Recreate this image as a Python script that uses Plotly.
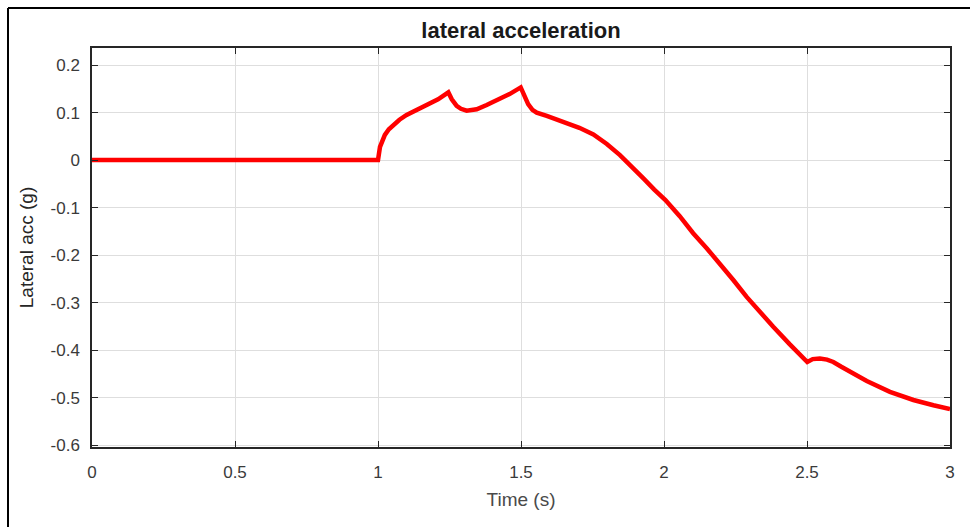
import plotly.graph_objects as go

time_s = [0.0, 0.5, 1.0, 1.007, 1.015, 1.024, 1.038, 1.054, 1.075, 1.10, 1.135, 1.17, 1.21, 1.246,
          1.258, 1.275, 1.29, 1.31, 1.33, 1.345, 1.38, 1.415, 1.46, 1.499, 1.51, 1.525, 1.54, 1.555,
          1.59, 1.625, 1.66, 1.704, 1.753, 1.80, 1.846, 1.888, 1.928, 1.966, 2.005, 2.055, 2.102,
          2.15, 2.196, 2.243, 2.289, 2.335, 2.382, 2.44, 2.501, 2.52, 2.545, 2.57, 2.592, 2.62, 2.65,
          2.709, 2.79, 2.872, 2.942, 3.0]
lat_acc = [0.0, 0.0, 0.0, 0.028, 0.042, 0.053, 0.065, 0.074, 0.085, 0.095, 0.106, 0.116, 0.128,
           0.1425, 0.128, 0.114, 0.108, 0.104, 0.105, 0.107, 0.116, 0.126, 0.139, 0.153, 0.138,
           0.118, 0.106, 0.100, 0.093, 0.086, 0.079, 0.068, 0.054, 0.034, 0.0105, -0.013, -0.0386,
           -0.062, -0.084, -0.118, -0.154, -0.186, -0.218, -0.253, -0.288, -0.32, -0.351, -0.388,
           -0.425, -0.419, -0.4175, -0.420, -0.425, -0.435, -0.446, -0.465, -0.488, -0.505, -0.516, -0.524]

x_ticks = [0, 0.5, 1, 1.5, 2, 2.5, 3]
x_tick_labels = ["0", "0.5", "1", "1.5", "2", "2.5", "3"]
y_ticks = [0.2, 0.1, 0, -0.1, -0.2, -0.3, -0.4, -0.5, -0.6]
y_tick_labels = ["0.2", "0.1", "0", "-0.1", "-0.2", "-0.3", "-0.4", "-0.5", "-0.6"]

W, H = 970, 527
L, R, T, B = 92, 20, 48, 80
pw, ph = W - L - R, H - T - B
FONT = "Liberation Sans, Arial"

fig = go.Figure()
fig.add_trace(go.Scatter(x=time_s, y=lat_acc, mode="lines",
                         line=dict(color="#ff0000", width=4.5, shape="linear"),
                         showlegend=False))

axis_common = dict(showgrid=True, gridcolor="#dedede", gridwidth=1,
                   showline=True, linecolor="#262626", linewidth=1.5, mirror="ticks",
                   ticks="inside", ticklen=6, tickcolor="#262626", zeroline=False,
                   tickfont=dict(family=FONT, size=17, color="#3a3a3a"))

fig.update_xaxes(range=[0, 3], tickvals=x_ticks, ticktext=x_tick_labels, ticklabelstandoff=9,
                 title=dict(text="Time (s)", font=dict(family=FONT, size=19, color="#4a4a4a"),
                            standoff=12),
                 **axis_common)
fig.update_yaxes(range=[-0.604, 0.236], tickvals=y_ticks, ticktext=y_tick_labels, ticklabelstandoff=7,
                 title=dict(text="Lateral acc (g)", font=dict(family=FONT, size=19, color="#262626"),
                            standoff=12),
                 **axis_common)

def px_x(p):
    return (p - L) / pw

def px_y(p):
    return (H - B - p) / ph

fig.update_layout(
    width=W, height=H,
    margin=dict(l=L, r=R, t=T, b=B),
    paper_bgcolor="white", plot_bgcolor="white",
    title=dict(text="<b>lateral acceleration</b>", x=(L + pw / 2) / W, xanchor="center",
               y=1 - 30 / H, yanchor="middle",
               font=dict(family=FONT, size=22, color="#1a1a1a")),
    shapes=[
        dict(type="line", xref="paper", yref="paper", x0=px_x(8), x1=px_x(975), y0=px_y(8), y1=px_y(8),
             line=dict(color="black", width=2)),
        dict(type="line", xref="paper", yref="paper", x0=px_x(8), x1=px_x(8), y0=px_y(8), y1=px_y(530),
             line=dict(color="black", width=2)),
    ],
)

fig.write_html("out.html")
